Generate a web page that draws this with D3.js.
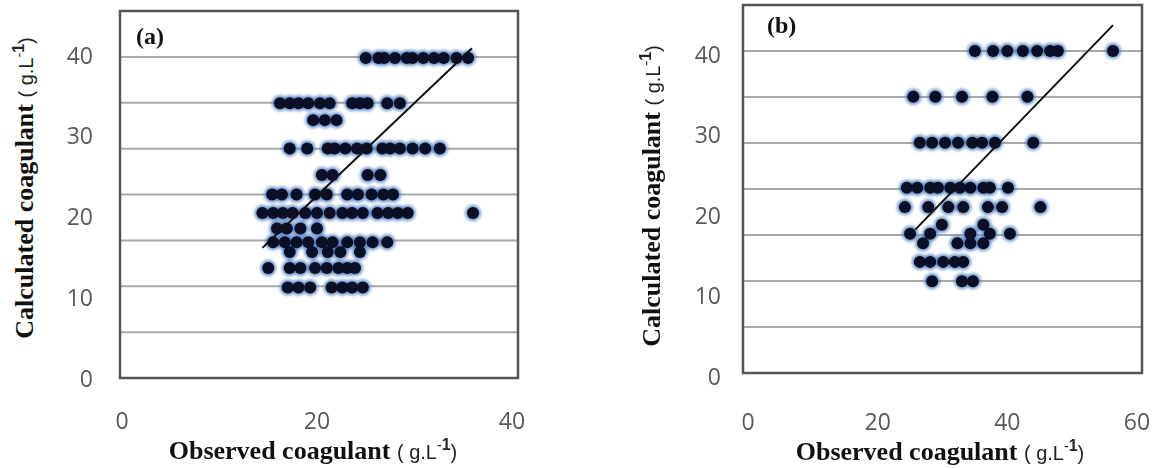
<!DOCTYPE html>
<html>
<head>
<meta charset="utf-8">
<title>Observed vs calculated coagulant</title>
<style>
  body { margin: 0; background: #fff; }
  svg { display: block; }
  .tick-label { font-family: "Open Sans", sans-serif; font-size: 23px; fill: #595959; }
  .title-main { font-family: "Liberation Serif", serif; font-weight: bold; font-size: 26px; fill: #111; }
  .title-unit { font-family: "Liberation Sans", sans-serif; font-size: 20px; fill: #222; }
  .panel-tag { font-family: "Liberation Serif", serif; font-weight: bold; font-size: 24px; fill: #111; }
</style>
</head>
<body>
<svg id="chart"></svg>
<script src="https://cdn.jsdelivr.net/npm/d3@7"></script>
<script>
// ---- data ----
// panel (a): rows of calculated values, each with the observed values on that row
var calcRowsA = [39.6, 34.0, 31.9, 28.4, 25.1, 22.7, 20.4, 18.5, 16.8, 15.6, 13.6, 11.2];
var obsRowsA = [
  [25, 26.3, 26.9, 28, 29.2, 29.8, 30.9, 32, 33, 34.3, 35.5],
  [16.2, 17.2, 18.1, 19.1, 20.3, 21.3, 23.6, 24.4, 25.2, 27.2, 28.5],
  [19.6, 20.8, 22],
  [17.2, 19, 21.1, 21.8, 22.9, 24.1, 25.1, 26.7, 27.5, 28.5, 29.8, 31.1, 32.6],
  [20.5, 21.6, 25.2, 26.5],
  [15.4, 16.4, 17.9, 19.8, 21, 23.1, 24.2, 25.6, 26.8, 27.8],
  [14.4, 15.5, 16.5, 17.5, 18.8, 20, 21.3, 22.6, 23.6, 24.7, 26.2, 27.3, 28.3, 29.3, 36],
  [15.9, 16.9, 18.3, 20],
  [15.5, 16.7, 17.9, 19.1, 20.5, 21.6, 23.1, 24.4, 25.7, 27.2],
  [17.2, 19.5, 21.1, 22.4, 24.4],
  [15, 17.2, 18.3, 19.8, 21, 22.2, 23.1, 23.9],
  [17, 18.1, 19.3, 21.5, 22.6, 23.6, 24.7]
];
var fitA = [[14.4, 16.1], [35.9, 40.8]];

// panel (b)
var calcRowsB = [40.0, 34.3, 28.6, 23.0, 20.6, 18.4, 17.3, 16.1, 13.8, 11.4];
var obsRowsB = [
  [35, 37.8, 40, 42.4, 44.6, 46.6, 47.8, 56.3],
  [25.5, 28.9, 33, 37.7, 43.1],
  [26.5, 28.4, 30.4, 32.4, 34.6, 36.1, 38.1, 44],
  [24.5, 26.1, 28.1, 29.3, 31.2, 32.7, 34.3, 36.3, 37.3, 40.1],
  [24.2, 27.8, 30.9, 33.2, 37, 39.2, 45.1],
  [29.9, 36.3],
  [25, 28.1, 34.3, 37.3, 40.4],
  [27, 32.3, 34.3, 36.3],
  [26.5, 28.1, 30.1, 31.9, 33.2],
  [28.4, 33, 34.7]
];
var fitB = [[25.8, 17.8], [56.3, 43.2]];

var yTicks = [0, 10, 20, 30, 40];
var xTicksA = [0, 20, 40];
var xTicksB = [0, 20, 40, 60];

// ---- layout ----
var W = 1155, H = 468;
var svg = d3.select("#chart").attr("width", W).attr("height", H);

var defs = svg.append("defs");
defs.append("filter").attr("id", "glow")
    .attr("x", "-50%").attr("y", "-50%").attr("width", "200%").attr("height", "200%")
  .append("feGaussianBlur").attr("stdDeviation", 1.8);

function flatten(calcRows, obsRows) {
  var pts = [];
  calcRows.forEach(function(c, i) {
    obsRows[i].forEach(function(o) { pts.push({obs: o, calc: c}); });
  });
  return pts;
}

function drawPanel(cfg) {
  var x = d3.scaleLinear().domain(cfg.xDomain).range(cfg.xRange);
  var y = d3.scaleLinear().domain(cfg.yDomain).range([cfg.box.y1, cfg.box.y0]);
  var g = svg.append("g");
  var b = cfg.box;

  // horizontal gridlines: 8 equal bands inside the box
  var step = cfg.yDomain[1] / 8;
  g.append("g").selectAll("line")
    .data(d3.range(1, 8))
    .enter().append("line")
      .attr("x1", b.x0).attr("x2", b.x1)
      .attr("y1", function(k) { return y(k * step); })
      .attr("y2", function(k) { return y(k * step); })
      .attr("stroke", "#a9a9a9")
      .attr("stroke-width", 2);

  // plot frame
  g.append("rect")
    .attr("x", b.x0).attr("y", b.y0)
    .attr("width", b.x1 - b.x0).attr("height", b.y1 - b.y0)
    .attr("fill", "none")
    .attr("stroke", "#555")
    .attr("stroke-width", 2.5);

  var pts = flatten(cfg.calcRows, cfg.obsRows);

  // bluish halo under markers
  g.append("g").attr("filter", "url(#glow)").selectAll("circle")
    .data(pts)
    .enter().append("circle")
      .attr("cx", function(d) { return x(d.obs); })
      .attr("cy", function(d) { return y(d.calc); })
      .attr("r", 8)
      .attr("fill", "#4a7cc0")
      .attr("opacity", 0.8);

  g.append("g").selectAll("circle")
    .data(pts)
    .enter().append("circle")
      .attr("cx", function(d) { return x(d.obs); })
      .attr("cy", function(d) { return y(d.calc); })
      .attr("r", 6)
      .attr("fill", "#0b0f26");

  // fitted line
  g.append("line")
    .attr("x1", x(cfg.fit[0][0])).attr("y1", y(cfg.fit[0][1]))
    .attr("x2", x(cfg.fit[1][0])).attr("y2", y(cfg.fit[1][1]))
    .attr("stroke", "#111")
    .attr("stroke-width", 2);

  // tick labels (no tick marks)
  g.append("g").selectAll("text")
    .data(yTicks)
    .enter().append("text")
      .attr("class", "tick-label")
      .attr("x", cfg.yLabelX)
      .attr("y", function(d) { return y(d) + cfg.yLabelDy; })
      .attr("text-anchor", "end")
      .attr("dominant-baseline", "central")
      .text(function(d) { return d; });

  g.append("g").selectAll("text")
    .data(cfg.xTicks)
    .enter().append("text")
      .attr("class", "tick-label")
      .attr("x", function(d) { return x(d); })
      .attr("y", cfg.xLabelY)
      .attr("text-anchor", "middle")
      .text(function(d) { return d; });

  // axis titles
  var xt = g.append("text")
    .attr("x", cfg.xTitle[0]).attr("y", cfg.xTitle[1])
    .attr("text-anchor", "middle");
  unitTitle(xt, "Observed coagulant");

  var yt = g.append("text")
    .attr("transform", "translate(" + cfg.yTitle[0] + "," + cfg.yTitle[1] + ") rotate(-90)")
    .attr("text-anchor", "middle");
  unitTitle(yt, "Calculated coagulant");

  g.append("text")
    .attr("class", "panel-tag")
    .attr("x", cfg.tag[0]).attr("y", cfg.tag[1])
    .text(cfg.tagText);
}

function unitTitle(sel, label) {
  sel.append("tspan").attr("class", "title-main").text(label + " ");
  sel.append("tspan").attr("class", "title-unit").text(" ( g.L");
  sel.append("tspan").attr("class", "title-unit").attr("dy", -9)
    .style("font-size", "14px").text("-");
  sel.append("tspan").attr("class", "title-unit").style("font-weight", "bold")
    .style("font-size", "16px").text("1");
  sel.append("tspan").attr("class", "title-unit").attr("dy", 9).text(")");
}

drawPanel({
  box: {x0: 120, x1: 518, y0: 11, y1: 378},
  xDomain: [0, 40], xRange: [122, 512],
  yDomain: [0, 45.4],
  calcRows: calcRowsA, obsRows: obsRowsA, fit: fitA,
  xTicks: xTicksA,
  yLabelX: 93, yLabelDy: 0, xLabelY: 429,
  xTitle: [313, 459], yTitle: [33, 188],
  tag: [136, 44], tagText: "(a)"
});

drawPanel({
  box: {x0: 743, x1: 1142, y0: 5, y1: 373},
  xDomain: [0, 60], xRange: [748, 1137],
  yDomain: [0, 45.7],
  calcRows: calcRowsB, obsRows: obsRowsB, fit: fitB,
  xTicks: xTicksB,
  yLabelX: 721, yLabelDy: 3, xLabelY: 430,
  xTitle: [940, 460], yTitle: [660, 196],
  tag: [767, 33], tagText: "(b)"
});
</script>
</body>
</html>
